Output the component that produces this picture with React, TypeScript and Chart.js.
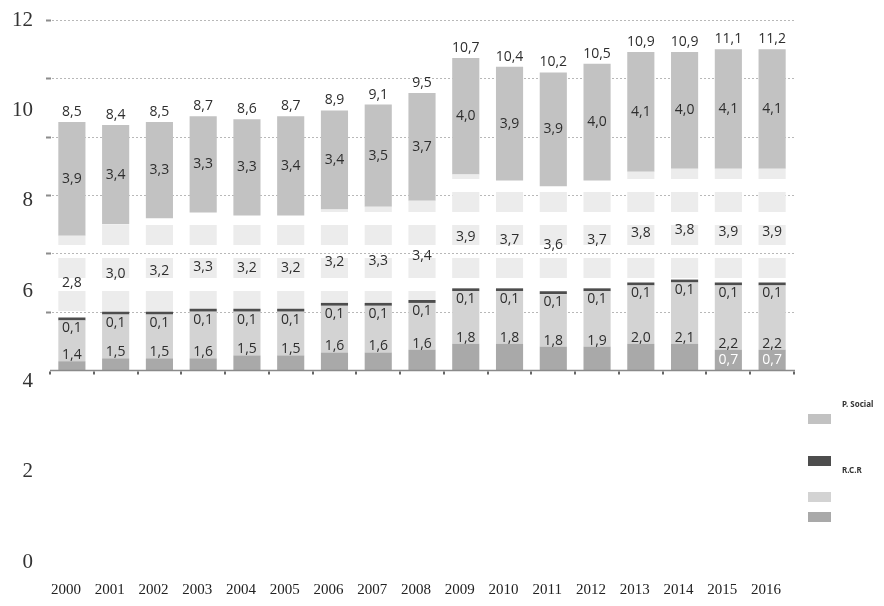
import { useEffect, useRef } from 'react';
import { Chart, registerables } from 'chart.js';

Chart.register(...registerables);

// Years on the category axis
const years = ['2000', '2001', '2002', '2003', '2004', '2005', '2006', '2007', '2008',
  '2009', '2010', '2011', '2012', '2013', '2014', '2015', '2016'];

// Total printed above each bar
const totals = [8.5, 8.4, 8.5, 8.7, 8.6, 8.7, 8.9, 9.1, 9.5, 10.7, 10.4, 10.2, 10.5, 10.9, 10.9, 11.1, 11.2];

// Stack segments, bottom to top
const baseBand = [0.3, 0.4, 0.4, 0.4, 0.5, 0.5, 0.6, 0.6, 0.7, 0.9, 0.9, 0.8, 0.8, 0.9, 0.9, 0.7, 0.7];
const baseBandLabelled = [false, false, false, false, false, false, false, false, false,
  false, false, false, false, false, false, true, true];
const lowerBand = [1.4, 1.5, 1.5, 1.6, 1.5, 1.5, 1.6, 1.6, 1.6, 1.8, 1.8, 1.8, 1.9, 2.0, 2.1, 2.2, 2.2];
const rcr = [0.1, 0.1, 0.1, 0.1, 0.1, 0.1, 0.1, 0.1, 0.1, 0.1, 0.1, 0.1, 0.1, 0.1, 0.1, 0.1, 0.1];
const middleBand = [2.8, 3.0, 3.2, 3.3, 3.2, 3.2, 3.2, 3.3, 3.4, 3.9, 3.7, 3.6, 3.7, 3.8, 3.8, 3.9, 3.9];
const pSocial = [3.9, 3.4, 3.3, 3.3, 3.3, 3.4, 3.4, 3.5, 3.7, 4.0, 3.9, 3.9, 4.0, 4.1, 4.0, 4.1, 4.1];

// Left-hand scale labels and the bar grid values
const leftTicks = [0, 2, 4, 6, 8, 10, 12];
const gridValues = [2, 4, 6, 8, 10, 12];

const fmt = (v: number) => v.toFixed(1).replace('.', ',');

function bandPattern(): CanvasPattern | string {
  const c = document.createElement('canvas');
  c.width = 4;
  c.height = 33;
  const g = c.getContext('2d');
  if (!g) return '#eeeeee';
  g.fillStyle = '#ececec';
  g.fillRect(0, 27, 4, 6);
  g.fillRect(0, 0, 4, 14);
  const p = g.createPattern(c, 'repeat');
  return p || '#eeeeee';
}

const gridPlugin = {
  id: 'gridPlugin',
  beforeDatasetsDraw(chart: any) {
    const { ctx, chartArea } = chart;
    const yb = chart.scales.yBar;
    ctx.save();
    for (const v of gridValues) {
      const y = Math.round(yb.getPixelForValue(v)) + 0.5;
      ctx.strokeStyle = '#b8b8b8';
      ctx.lineWidth = 1;
      ctx.setLineDash([2, 2]);
      ctx.beginPath();
      ctx.moveTo(chartArea.left + 2, y);
      ctx.lineTo(chartArea.right, y);
      ctx.stroke();
      ctx.setLineDash([]);
      ctx.fillStyle = '#8c8c8c';
      ctx.fillRect(chartArea.left - 4, y - 1, 5, 2);
    }
    ctx.restore();
  },
  afterDatasetsDraw(chart: any) {
    const { ctx, chartArea } = chart;
    const yb = chart.scales.yBar;
    const xs = chart.scales.x;
    const y0 = Math.round(yb.getPixelForValue(0)) + 0.5;
    ctx.save();
    ctx.strokeStyle = '#8a8a8a';
    ctx.lineWidth = 1.5;
    ctx.beginPath();
    ctx.moveTo(chartArea.left, y0);
    ctx.lineTo(chartArea.right + 1, y0);
    ctx.stroke();
    ctx.fillStyle = '#666';
    for (let i = 0; i <= years.length; i++) {
      const x = xs.getPixelForValue(i - 0.5);
      ctx.fillRect(Math.round(x) - 1, y0 + 1, 2, 3);
    }

    // segment and total labels
    const metas = [0, 1, 2, 3, 4].map((k) => chart.getDatasetMeta(k));
    ctx.textAlign = 'center';
    ctx.textBaseline = 'middle';
    ctx.font = '14px "Open Sans"';
    for (let i = 0; i < years.length; i++) {
      const d = metas[0].data[i] as any;
      const c = metas[1].data[i] as any;
      const r = metas[2].data[i] as any;
      const b = metas[3].data[i] as any;
      const a = metas[4].data[i] as any;
      ctx.fillStyle = '#2e2e2e';
      ctx.fillText(fmt(totals[i]), a.x, a.y - 10);
      ctx.fillText(fmt(pSocial[i]), a.x, (a.y + a.base) / 2);
      ctx.fillText(fmt(middleBand[i]), b.x, (b.y + b.base) / 2 + 6);
      ctx.fillText(fmt(rcr[i]), r.x, r.base + 8);
      ctx.fillText(fmt(lowerBand[i]), c.x, c.base - 6);
      if (baseBandLabelled[i]) {
        ctx.fillStyle = '#ffffff';
        ctx.fillText(fmt(baseBand[i]), d.x, (d.y + d.base) / 2);
      }
    }
    ctx.restore();
  },
  afterDraw(chart: any) {
    const { ctx } = chart;
    ctx.save();
    const boxes = [
      { y: 414, color: '#c2c2c2' },
      { y: 456, color: '#4d4d4d' },
      { y: 492, color: '#d3d3d3' },
      { y: 512, color: '#a9a9a9' },
    ];
    for (const bx of boxes) {
      ctx.fillStyle = bx.color;
      ctx.fillRect(808, bx.y, 23, 10);
    }
    ctx.fillStyle = '#333';
    ctx.font = 'bold 8px "Noto Sans"';
    ctx.textAlign = 'left';
    ctx.textBaseline = 'middle';
    ctx.fillText('P. Social', 842, 405);
    ctx.fillText('R.C.R', 842, 471);
    ctx.restore();
  },
};

export default function App() {
  const ref = useRef<HTMLCanvasElement | null>(null);

  useEffect(() => {
    document.body.style.margin = '0';
    const canvas = ref.current;
    if (!canvas) return;
    const pattern = bandPattern();
    const common = { yAxisID: 'yBar', stack: 's', barPercentage: 0.62, categoryPercentage: 1, borderWidth: 0 };
    const chart = new Chart(canvas, {
      type: 'bar',
      data: {
        labels: years,
        datasets: [
          { ...common, label: '', data: baseBand, backgroundColor: '#a9a9a9' },
          { ...common, label: '', data: lowerBand, backgroundColor: '#d3d3d3' },
          { ...common, label: 'R.C.R', data: rcr, backgroundColor: '#4d4d4d' },
          { ...common, label: '', data: middleBand, backgroundColor: pattern as any },
          { ...common, label: 'P. Social', data: pSocial, backgroundColor: '#c2c2c2' },
        ],
      },
      options: {
        responsive: false,
        animation: false,
        devicePixelRatio: 1,
        layout: { padding: { top: 20, right: 90, left: 0, bottom: 0 } },
        plugins: { legend: { display: false }, tooltip: { enabled: false } },
        scales: {
          x: {
            stacked: true,
            grid: { display: false, drawTicks: false },
            border: { display: false },
            ticks: {
              font: { family: 'Liberation Serif', size: 15 },
              color: '#222',
              padding: 19,
              labelOffset: -6,
              maxRotation: 0,
              autoSkip: false,
            },
            afterFit: (s: any) => { s.height = 44; },
          },
          yLabel: {
            type: 'linear',
            position: 'left',
            min: 0,
            max: 12,
            grid: { display: false, drawTicks: false },
            border: { display: false },
            ticks: {
              stepSize: 2,
              font: { family: 'Liberation Serif', size: 21 },
              color: '#333',
              padding: 17,
            },
            afterBuildTicks: (s: any) => { s.ticks = leftTicks.map((v) => ({ value: v })); },
            afterFit: (s: any) => {
              s.width = 50;
              s.paddingTop = 0;
              s.paddingBottom = 0;
            },
          },
          yBar: {
            type: 'linear',
            display: false,
            stacked: true,
            min: -6.583,
            max: 12,
          },
        },
      },
      plugins: [gridPlugin],
    });
    return () => chart.destroy();
  }, []);

  return <canvas ref={ref} width={884} height={606} style={{ display: 'block' }} />;
}
